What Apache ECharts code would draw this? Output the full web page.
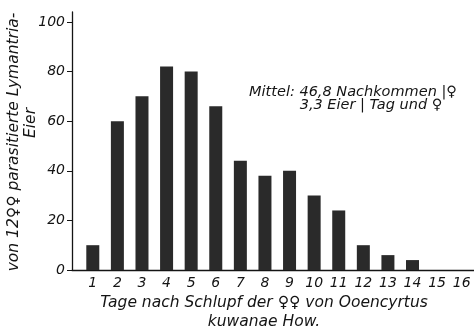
<!DOCTYPE html>
<html>
<head>
<meta charset="utf-8">
<script src="https://cdn.jsdelivr.net/npm/echarts/dist/echarts.min.js"></script>
<style>
  html, body { margin: 0; padding: 0; background: #fff; }
  #chart { width: 474px; height: 330px; }
</style>
</head>
<body>
<div id="chart"></div>
<script>
// Days after emergence of the females
const days = ['1','2','3','4','5','6','7','8','9','10','11','12','13','14','15','16'];
// Parasitised Lymantria eggs per day (12 females)
const eggs = [10, 60, 70, 82, 80, 66, 44, 38, 40, 30, 24, 10, 6, 4, 0, 0];
// Value-axis tick labels
const yTicks = [0, 20, 40, 60, 80, 100];

const FONT = '"DejaVu Sans", sans-serif';
const INK = '#141414';

const chart = echarts.init(document.getElementById('chart'), null, { renderer: 'canvas' });

chart.setOption({
  animation: false,
  backgroundColor: '#fff',
  grid: [
    { left: 72, right: 0, top: 12, bottom: 60 },
    { left: 80.5, width: 396, top: 12, bottom: 60 }
  ],
  xAxis: [
    {
      gridIndex: 0, type: 'value', min: 0, max: 1,
      axisLine: { show: true, lineStyle: { color: INK, width: 1.3 } },
      axisTick: { show: false }, axisLabel: { show: false }, splitLine: { show: false }
    },
    {
      gridIndex: 1, type: 'category', data: days,
      axisLine: { show: false }, axisTick: { show: false },
      axisLabel: {
        margin: 6, color: INK, fontFamily: FONT, fontStyle: 'italic', fontSize: 14
      }
    }
  ],
  yAxis: [
    {
      gridIndex: 0, type: 'value', min: 0, max: 104,
      axisLine: { show: true, lineStyle: { color: INK, width: 1.3 } },
      axisTick: { show: true, length: 5, customValues: yTicks, lineStyle: { color: INK } },
      axisLabel: {
        customValues: yTicks, margin: 7, color: INK,
        fontFamily: FONT, fontStyle: 'italic', fontSize: 14
      },
      splitLine: { show: false }
    },
    {
      gridIndex: 1, type: 'value', min: 0, max: 104, show: false
    }
  ],
  series: [
    {
      type: 'bar', xAxisIndex: 1, yAxisIndex: 1,
      data: eggs, barWidth: 13,
      itemStyle: { color: '#2a2a2a' }
    }
  ],
  graphic: [
    {
      type: 'text', x: 14, y: 142, rotation: Math.PI / 2,
      style: {
        text: 'von 12\u2640\u2640 parasitierte Lymantria-',
        font: 'italic 15.5px ' + FONT, fill: INK,
        align: 'center', verticalAlign: 'middle'
      }
    },
    {
      type: 'text', x: 31, y: 123, rotation: Math.PI / 2,
      style: {
        text: 'Eier', font: 'italic 15.5px ' + FONT, fill: INK,
        align: 'center', verticalAlign: 'middle'
      }
    },
    {
      type: 'text', x: 264, y: 303,
      style: {
        text: 'Tage nach Schlupf der \u2640\u2640 von Ooencyrtus',
        font: 'italic 15.5px ' + FONT, fill: INK,
        align: 'center', verticalAlign: 'middle'
      }
    },
    {
      type: 'text', x: 264, y: 322,
      style: {
        text: 'kuwanae How.', font: 'italic 15.5px ' + FONT, fill: INK,
        align: 'center', verticalAlign: 'middle'
      }
    },
    {
      type: 'text', x: 353, y: 92,
      style: {
        text: 'Mittel: 46,8 Nachkommen |\u2640', font: 'italic 14.5px ' + FONT, fill: INK,
        align: 'center', verticalAlign: 'middle'
      }
    },
    {
      type: 'text', x: 371, y: 105,
      style: {
        text: '3,3 Eier | Tag und \u2640', font: 'italic 14.5px ' + FONT, fill: INK,
        align: 'center', verticalAlign: 'middle'
      }
    }
  ]
});
</script>
</body>
</html>
